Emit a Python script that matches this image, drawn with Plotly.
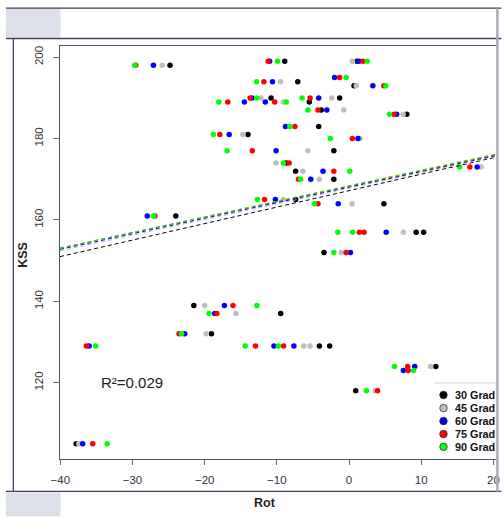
import plotly.graph_objects as go

# ---------------- data ----------------
series_names = ["30 Grad", "45 Grad", "60 Grad", "75 Grad", "90 Grad"]
series_colors = ["#000000", "#BEBEBE", "#0000FF", "#FF0000", "#00FF00"]

rot_30 = [-24.8, -8.9, 1.1, -7.1, 0.69, -10.8, -1.3, -5.5, -3.85, 8.0, -4.2, -14.0, -2.1, -8.7,
          -7.4, -2.1, -7.4, 4.83, -24.0, 9.3, 10.33, -3.47, -21.5, -9.47, -19.06, -4.11, -2.69,
          12.02, 0.93, -37.8]
kss_30 = [198, 199, 199, 194, 193, 190, 190, 189, 187, 186, 183, 181, 177, 174,
          172, 170, 165, 164, 161, 157, 157, 152, 139, 137, 132, 129, 129,
          124, 118, 105]

rot_45 = [-25.9, 0.46, -9.5, 1.0, -12.2, -2.4, -9.1, -0.73, 7.5, -14.7, 1.52, -5.7, -10.1, 18.3,
          -6.4, -4.1, -9.1, 0.43, 7.53, -1.09, -20.0, -15.66, -19.8, -6.27, -5.4, 11.3, 3.63, -37.44]
kss_45 = [198, 199, 194, 193, 190, 190, 189, 187, 186, 181, 180, 177, 174, 173,
          172, 170, 165, 164, 157, 152, 139, 137, 132, 129, 129, 124, 118, 105]

rot_60 = [-27.1, -11.0, 1.38, -2.0, -10.6, 3.3, -13.45, -4.2, -14.5, -11.6, -3.07, 6.6, -8.8,
          -16.6, 1.24, -10.1, -3.6, -5.3, 17.75, -10.2, -1.5, -27.95, 5.15, 0.2, -17.27, -18.6,
          -22.77, -36.0, -10.4, -7.64, 9.1, 7.53, -36.9]
kss_60 = [198, 199, 199, 195, 194, 193, 190, 190, 189, 189, 187, 186, 183,
          181, 180, 177, 172, 170, 173, 165, 164, 161, 157, 152, 139, 137,
          132, 129, 129, 129, 124, 123, 105]

rot_75 = [-29.55, -11.2, 1.93, -1.3, -11.8, 4.82, -13.7, -5.4, -16.8, -10.3, -4.3, 6.25, -7.5,
          -17.9, 0.46, -13.4, -8.3, 16.74, -2.1, -7.0, -11.7, -4.3, -26.9, 1.43, 2.08, -0.4,
          -16.07, -18.3, -23.55, -36.4, -12.96, -9.06, 8.13, 8.2, 3.95, -35.5]
kss_75 = [198, 199, 199, 195, 194, 193, 190, 190, 189, 189, 187, 186, 183,
          181, 180, 177, 174, 173, 172, 170, 165, 164, 161, 157, 157, 152,
          139, 137, 132, 129, 129, 129, 124, 123, 118, 105]

rot_90 = [-29.7, -9.9, 2.53, -0.4, -12.8, 5.09, -12.8, -6.5, -18.05, -8.7, -5.7, 5.6, -8.2,
          -18.8, -2.6, -16.9, -9.1, 15.32, 0.1, -6.7, -12.7, -4.8, -27.1, -1.55, 0.5, -2.1,
          -12.77, -19.4, -23.2, -35.1, -14.38, -9.8, 6.3, 8.95, 2.4, -33.5]
kss_90 = [198, 199, 199, 195, 194, 193, 190, 190, 189, 189, 187, 186, 183,
          181, 180, 177, 174, 173, 172, 170, 165, 164, 161, 157, 157, 152,
          139, 137, 132, 129, 129, 129, 124, 123, 118, 105]

# regression lines (intercept, slope)
fit_intercept = [167.2, 167.8, 168.07, 168.3, 168.43]
fit_slope = [0.405, 0.385, 0.382, 0.380, 0.383]

x_ticks = [-40, -30, -20, -10, 0, 10, 20]
y_ticks = [120, 140, 160, 180, 200]
x_range = [-40.04, 20.5]
y_range = [101.24, 202.76]
r2_text = "R²=0.029"

rots = [rot_30, rot_45, rot_60, rot_75, rot_90]
ksss = [kss_30, kss_45, kss_60, kss_75, kss_90]

# ---------------- layout geometry (pixels) ----------------
W_FIG, H_FIG = 504, 517
L, R_EDGE, T, B_EDGE = 59.5, 499.6, 45.5, 459.5
PW, PH = R_EDGE - L, B_EDGE - T


def px(xp):
    return (xp - L) / PW


def py(yp):
    return (B_EDGE - yp) / PH


fig = go.Figure()

for name, col, xs, ys in zip(series_names, series_colors, rots, ksss):
    fig.add_trace(go.Scatter(x=xs, y=ys, mode="markers", name=name,
                             marker=dict(color=col, size=5.5, line=dict(width=0)),
                             showlegend=False))

for name, col, a, b in zip(series_names, series_colors, fit_intercept, fit_slope):
    xs = list(x_range)
    ys = [a + b * v for v in xs]
    fig.add_trace(go.Scatter(x=xs, y=ys, mode="lines", showlegend=False,
                             line=dict(color=col, width=1, dash="4px,3px"),
                             hoverinfo="skip"))

FRAME = "#50526c"
DARK = "#3d3f5c"
shapes = []
# outer window decorations
shapes.append(dict(type="rect", xref="paper", yref="paper", x0=px(5), x1=px(60), y0=py(8), y1=py(37),
                   fillcolor="#dde0e8", line=dict(width=0), layer="below"))
shapes.append(dict(type="rect", xref="paper", yref="paper", x0=px(5), x1=px(60), y0=py(493), y1=py(517),
                   fillcolor="#dde0e8", line=dict(width=0), layer="below"))
for yy in (7.5, 38, 492):
    shapes.append(dict(type="line", xref="paper", yref="paper", x0=px(5), x1=px(504), y0=py(yy), y1=py(yy),
                       line=dict(color=DARK, width=1.3)))
shapes.append(dict(type="line", xref="paper", yref="paper", x0=px(12.5), x1=px(12.5), y0=py(38), y1=py(492),
                   line=dict(color=DARK, width=1.3)))
shapes.append(dict(type="line", xref="paper", yref="paper", x0=px(500), x1=px(500), y0=py(8), y1=py(492),
                   line=dict(color="#a9acb9", width=2.5)))
# legend box top line
shapes.append(dict(type="line", xref="paper", yref="paper", x0=px(436.7), x1=px(498.5), y0=py(383.3), y1=py(383.3),
                   line=dict(color="#d2d2d2", width=1)))

annotations = []
# legend entries
leg_y = [395.3, 408.5, 421.5, 434.5, 447.3]
for name, col, yy in zip(series_names, series_colors, leg_y):
    shapes.append(dict(type="circle", xref="paper", yref="paper",
                       x0=px(445.7 - 3.8), x1=px(445.7 + 3.8), y0=py(yy + 3.8), y1=py(yy - 3.8),
                       fillcolor=col, line=dict(color="#333333", width=0.8)))
    annotations.append(dict(xref="paper", yref="paper", x=px(455), y=py(yy), text="<b>%s</b>" % name,
                            showarrow=False, xanchor="left", yanchor="middle",
                            font=dict(family="Liberation Sans, Arial", size=10.8, color="#111111")))

annotations.append(dict(xref="paper", yref="paper", x=px(99), y=py(383), text=r2_text, showarrow=False,
                        xanchor="left", yanchor="middle",
                        font=dict(family="Liberation Sans, Arial", size=15, color="#222222")))
annotations.append(dict(xref="paper", yref="paper", x=px(265.5), y=py(504), text="<b>Rot</b>", showarrow=False,
                        xanchor="center", yanchor="middle",
                        font=dict(family="Liberation Sans, Arial", size=12.5, color="#222222")))
annotations.append(dict(xref="paper", yref="paper", x=px(22), y=py(255), text="<b>KSS</b>", showarrow=False,
                        textangle=-90, xanchor="center", yanchor="middle",
                        font=dict(family="Liberation Sans, Arial", size=12.5, color="#222222")))

fig.update_layout(
    width=W_FIG, height=H_FIG,
    margin=dict(l=L, r=W_FIG - R_EDGE, t=T, b=H_FIG - B_EDGE, pad=0),
    paper_bgcolor="white", plot_bgcolor="white",
    showlegend=False,
    shapes=shapes, annotations=annotations,
    font=dict(family="Liberation Sans, Arial", size=11.5, color="#333333"),
    xaxis=dict(range=x_range, tickvals=x_ticks, ticks="outside", ticklen=5, tickcolor="#666666",
               showgrid=False, zeroline=False, showline=True, mirror=True, linecolor=FRAME, linewidth=1.2,
               ticklabelstandoff=5,
               tickfont=dict(size=11.5, color="#333333")),
    yaxis=dict(range=y_range, tickvals=y_ticks, ticks="outside", ticklen=6, tickcolor="#666666",
               showgrid=False, zeroline=False, showline=True, mirror=True, linecolor=FRAME, linewidth=1.2,
               ticklabelstandoff=5,
               tickangle=-90, tickfont=dict(size=11.5, color="#333333")),
)

fig.write_html("out.html",
               config={"displayModeBar": False},
               post_script="document.body.style.margin='0';document.body.style.padding='0';"
                           "document.body.style.overflow='hidden';")
